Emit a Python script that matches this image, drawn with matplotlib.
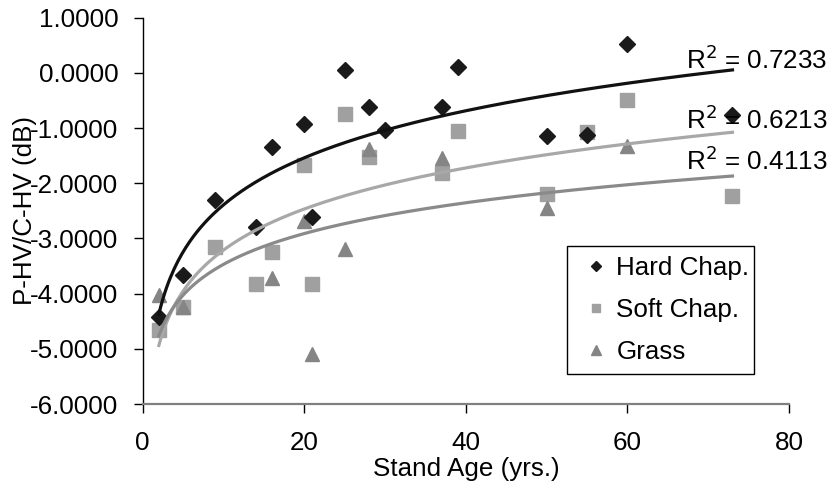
import numpy as np
import matplotlib.pyplot as plt

plt.rcParams['font.family'] = ['Liberation Sans', 'DejaVu Sans']

# stand age (yrs.) and P-HV/C-HV (dB)
hard_age = [2, 5, 9, 14, 16, 20, 21, 25, 28, 30, 37, 39, 50, 55, 60, 73]
hard_val = [-4.43, -3.67, -2.30, -2.79, -1.35, -0.93, -2.61, 0.05, -0.61,
            -1.03, -0.62, 0.10, -1.15, -1.13, 0.53, -0.77]
soft_age = [2, 5, 9, 14, 16, 20, 21, 25, 28, 37, 39, 50, 55, 60, 73]
soft_val = [-4.65, -4.24, -3.16, -3.82, -3.24, -1.67, -3.83, -0.74, -1.53,
            -1.82, -1.06, -2.19, -1.08, -0.50, -2.23]
grass_age = [2, 5, 16, 20, 21, 25, 28, 37, 50, 60]
grass_val = [-4.03, -4.24, -3.71, -2.68, -5.09, -3.19, -1.38, -1.55, -2.45, -1.33]

trend_span = (2, 73)
r2_labels = ['R$^2$ = 0.7233', 'R$^2$ = 0.6213', 'R$^2$ = 0.4113']

FS = 18.7

# name, x, y, marker, marker colour, line colour, marker size, zorder
series = [
    ('Hard Chap.', hard_age, hard_val, 'D', '#1a1a1a', '#111111', 8.5, 4),
    ('Soft Chap.', soft_age, soft_val, 's', '#a0a0a0', '#a8a8a8', 9.5, 2),
    ('Grass', grass_age, grass_val, '^', '#858585', '#8a8a8a', 10.5, 3),
]

fig, ax = plt.subplots(figsize=(8.31, 4.91), dpi=100)
fig.subplots_adjust(left=0.1717, right=0.9495, top=0.964, bottom=0.177)

for name, xs, ys, mk, col, lcol, ms, z in series:
    ax.plot(xs, ys, linestyle='none', marker=mk, color=col, ms=ms,
            mec=col, label=name, zorder=z)

# logarithmic trendlines (y = a ln x + b), as in the spreadsheet
xx = np.linspace(trend_span[0], trend_span[1], 300)
for name, xs, ys, mk, col, lcol, ms, z in series:
    a, b = np.polyfit(np.log(np.array(xs, dtype=float)), ys, 1)
    ax.plot(xx, a * np.log(xx) + b, color=lcol, lw=2.3, zorder=5)

r2_pos = [(67.2, 0.073), (67.2, -1.02), (67.2, -1.755)]
for (tx, ty), lab in zip(r2_pos, r2_labels):
    ax.text(tx, ty, lab, fontsize=FS, va='baseline', ha='left',
            clip_on=False, zorder=6)

ax.set_xlim(0, 80)
ax.set_ylim(-6, 1)
ax.set_xticks(range(0, 81, 20))
ax.set_yticks(range(-6, 2))
ax.set_yticklabels(['%.4f' % v for v in range(-6, 2)])
ax.tick_params(labelsize=FS, length=6.5, width=1)
ax.tick_params(axis='x', pad=13)
ax.tick_params(axis='y', pad=11)

ax.spines['top'].set_visible(False)
ax.spines['right'].set_visible(False)
ax.spines['bottom'].set_color('#808080')
ax.spines['bottom'].set_linewidth(1.6)
ax.spines['left'].set_linewidth(1)

ax.set_xlabel('Stand Age (yrs.)', fontsize=FS, labelpad=1)
ax.set_ylabel('P-HV/C-HV (dB)', fontsize=FS)
ax.yaxis.set_label_coords(-0.163, 0.5)

leg = ax.legend(loc='upper left', bbox_to_anchor=(0.6565, 0.409, 0.29, 0.0),
                mode='expand', fontsize=FS, markerscale=0.65, fancybox=False,
                edgecolor='black', framealpha=1, handlelength=1.4,
                handletextpad=0.1, borderpad=0.4, labelspacing=0.68,
                borderaxespad=0)
leg.get_frame().set_linewidth(1)
leg.set_zorder(7)

plt.savefig('out.png')
